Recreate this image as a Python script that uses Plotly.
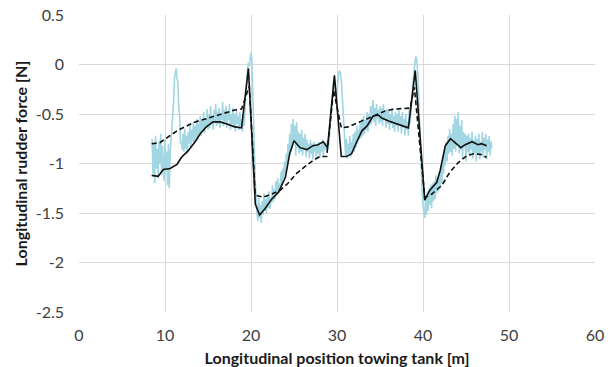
import numpy as np
import plotly.graph_objects as go

# Measured longitudinal rudder force, sampled every 0.1 m from 8.5 m
meas_x0 = 8.5
meas_dx = 0.1
meas_y = [
    # 8.5 - 10.7
    -0.75, -1.10, -0.80, -1.20, -0.72, -1.05, -0.85, -1.15, -0.78, -1.00,
    -0.70, -1.12, -0.82, -0.95, -1.18, -0.76, -1.05, -0.88, -1.22, -0.80,
    -1.25, -0.90, -0.78,
    # 10.8 - 12.0
    -0.72, -0.50, -0.38, -0.14, -0.10, -0.04, -0.14, -0.18, -0.44, -0.52,
    -0.80, -0.78, -0.86,
    # 12.1 - 19.0
    -0.70, -0.88, -0.65, -0.85, -0.72, -0.90, -0.68, -0.80, -0.62, -0.84,
    -0.66, -0.78, -0.58, -0.80, -0.62, -0.74, -0.55, -0.76, -0.60, -0.70,
    -0.52, -0.72, -0.56, -0.66, -0.48, -0.70, -0.54, -0.62, -0.45, -0.66,
    -0.50, -0.64, -0.42, -0.60, -0.52, -0.66, -0.46, -0.58, -0.40, -0.62,
    -0.48, -0.60, -0.44, -0.64, -0.50, -0.56, -0.38, -0.62, -0.46, -0.58,
    -0.42, -0.64, -0.48, -0.56, -0.40, -0.66, -0.50, -0.60, -0.44, -0.62,
    -0.50, -0.68, -0.46, -0.60, -0.52, -0.66, -0.48, -0.62, -0.55, -0.68,
    # 19.1 - 19.3
    -0.50, -0.62, -0.40,
    # 19.4 - 20.7
    -0.25, -0.15, -0.05, 0.02, -0.02, 0.08, 0.12, 0.05, -0.20, -0.55,
    -0.90, -1.20, -1.40, -1.50,
    # 20.8 - 28.7
    -1.58, -1.35, -1.55, -1.42, -1.60, -1.38, -1.52, -1.30, -1.48, -1.36,
    -1.50, -1.32, -1.45, -1.28, -1.46, -1.34, -1.40, -1.22, -1.38, -1.26,
    -1.36, -1.18, -1.32, -1.15, -1.30, -1.20, -1.25, -1.08, -1.22, -1.05,
    -1.15, -0.98, -1.10, -0.90, -1.02, -0.80, -0.95, -0.70, -0.88, -0.60,
    -0.85, -0.55, -0.78, -0.62, -0.92, -0.58, -0.84, -0.68, -0.90, -0.70,
    -0.88, -0.66, -0.92, -0.74, -0.86, -0.70, -0.94, -0.76, -0.88, -0.80,
    -0.95, -0.76, -0.90, -0.80, -0.96, -0.78, -0.88, -0.82, -0.94, -0.80,
    -0.90, -0.78, -0.95, -0.82, -0.88, -0.76, -0.92, -0.80, -0.86, -0.78,
    # 28.8 - 30.9
    -0.88, -0.80, -0.85, -0.72, -0.60, -0.48, -0.38, -0.28, -0.18, -0.14,
    -0.24, -0.34, -0.28, -0.16, -0.09, -0.06, -0.09, -0.15, -0.32, -0.55,
    -0.72, -0.82,
    # 31.0 - 37.9
    -0.92, -0.75, -0.95, -0.80, -0.90, -0.72, -0.94, -0.78, -0.86, -0.70,
    -0.88, -0.68, -0.84, -0.62, -0.80, -0.66, -0.76, -0.58, -0.74, -0.55,
    -0.72, -0.52, -0.70, -0.56, -0.66, -0.48, -0.68, -0.50, -0.62, -0.42,
    -0.60, -0.45, -0.36, -0.58, -0.44, -0.62, -0.40, -0.55, -0.46, -0.60,
    -0.42, -0.58, -0.44, -0.62, -0.40, -0.56, -0.48, -0.64, -0.45, -0.60,
    -0.46, -0.66, -0.50, -0.60, -0.44, -0.64, -0.52, -0.68, -0.48, -0.62,
    -0.50, -0.68, -0.46, -0.62, -0.52, -0.70, -0.48, -0.64, -0.55, -0.72,
    # 38.0 - 38.6
    -0.50, -0.66, -0.58, -0.72, -0.45, -0.60, -0.50,
    # 38.7 - 40.2
    -0.35, -0.20, -0.10, 0.00, 0.05, 0.08, 0.02, -0.10, -0.35, -0.65,
    -0.90, -1.15, -1.30, -1.42, -1.50, -1.55,
    # 40.3 - 47.2
    -1.35, -1.52, -1.28, -1.48, -1.25, -1.42, -1.22, -1.45, -1.20, -1.38,
    -1.18, -1.36, -1.12, -1.30, -1.15, -1.28, -1.08, -1.25, -1.02, -1.20,
    -0.92, -1.10, -0.85, -1.02, -0.78, -0.98, -0.72, -0.90, -0.65, -0.88,
    -0.70, -0.92, -0.60, -0.85, -0.52, -0.88, -0.55, -0.80, -0.48, -0.90,
    -0.62, -0.86, -0.56, -0.95, -0.68, -0.84, -0.70, -0.98, -0.72, -0.88,
    -0.70, -0.92, -0.74, -0.86, -0.68, -0.95, -0.76, -0.90, -0.72, -0.98,
    -0.75, -0.90, -0.70, -0.96, -0.78, -0.88, -0.68, -0.94, -0.74, -0.86,
    # 47.3 - 48.0
    -0.70, -0.96, -0.76, -0.88, -0.72, -0.92, -0.78, -0.85,
]
meas_x = np.round(meas_x0 + meas_dx * np.arange(len(meas_y)), 2)

# Filtered force (solid black)
filt_x = [8.45, 9.2, 9.8, 10.6, 11.4, 11.9, 12.7, 13.5, 14.1, 14.8, 15.6, 16.4,
          17.2, 18.1, 18.9, 19.7, 20.5, 21.0, 21.6, 22.4, 23.2, 24.0, 24.5,
          25.0, 25.7, 26.5, 27.2, 27.8, 28.4, 28.9, 29.7, 30.5, 31.1, 31.7,
          32.3, 32.9, 33.5, 34.2, 34.8, 35.2, 36.0, 36.7, 37.5, 38.3, 39.1,
          40.2, 40.8, 41.6, 42.0, 42.6, 43.2, 43.8, 44.4, 44.9, 45.7, 46.4,
          46.8, 47.4]
filt_y = [-1.12, -1.13, -1.06, -1.05, -1.01, -0.94, -0.87, -0.78, -0.70, -0.63,
          -0.58, -0.58, -0.60, -0.63, -0.64, -0.04, -1.41, -1.52, -1.46, -1.36,
          -1.29, -1.14, -0.90, -0.77, -0.84, -0.86, -0.82, -0.81, -0.78, -0.84,
          -0.11, -0.93, -0.93, -0.90, -0.78, -0.67, -0.62, -0.52, -0.51, -0.54,
          -0.57, -0.59, -0.61, -0.64, -0.06, -1.37, -1.27, -1.19, -1.07, -0.82,
          -0.75, -0.80, -0.84, -0.81, -0.78, -0.81, -0.80, -0.82]

# Computed force (dashed black)
calc_x = [8.45, 9.4, 10.4, 11.4, 12.3, 13.5, 14.7, 15.8, 17.0, 18.1, 18.9,
          19.8, 20.5, 21.4, 22.4, 23.4, 24.3, 25.3, 26.3, 27.2, 28.0, 28.8,
          29.6, 30.5, 31.3, 32.1, 33.3, 34.4, 35.6, 36.7, 37.9, 38.5, 39.0,
          40.2, 41.0, 42.2, 43.1, 44.1, 45.1, 46.0, 46.8, 47.4]
calc_y = [-0.80, -0.79, -0.73, -0.67, -0.63, -0.58, -0.55, -0.52, -0.49, -0.46,
          -0.45, -0.22, -1.32, -1.34, -1.31, -1.27, -1.20, -1.10, -1.03, -0.97,
          -0.93, -0.93, -0.26, -0.64, -0.63, -0.60, -0.56, -0.52, -0.47, -0.45,
          -0.44, -0.44, -0.23, -1.34, -1.31, -1.22, -1.09, -0.99, -0.92, -0.90,
          -0.91, -0.94]

x_ticks = [0, 10, 20, 30, 40, 50, 60]
y_ticks = [0.5, 0, -0.5, -1, -1.5, -2, -2.5]
y_tick_text = ["0.5", "0", "-0.5", "-1", "-1.5", "-2", "-2.5"]

fig = go.Figure()
fig.add_trace(go.Scatter(x=meas_x, y=meas_y, mode="lines",
                         line=dict(color="#A3D6E3", width=1.6),
                         showlegend=False))
fig.add_trace(go.Scatter(x=filt_x, y=filt_y, mode="lines",
                         line=dict(color="#111111", width=1.6),
                         showlegend=False))
fig.add_trace(go.Scatter(x=calc_x, y=calc_y, mode="lines",
                         line=dict(color="#111111", width=1.6, dash="5px,3px"),
                         showlegend=False))

font_family = "Lato, 'Open Sans', sans-serif"
fig.update_layout(
    width=614, height=367,
    margin=dict(l=79, r=19, t=15, b=55),
    paper_bgcolor="white", plot_bgcolor="white",
    font=dict(family=font_family, size=16, color="#404040"),
    xaxis=dict(
        range=[0, 60], tickvals=x_ticks,
        showgrid=True, gridcolor="#D9D9D9", gridwidth=1,
        zeroline=False, showline=False, ticks="",
        ticklabelstandoff=12, automargin=False,
        tickfont=dict(size=16, color="#404040"),
        title=dict(text="<b>Longitudinal position towing tank [m]</b>",
                   font=dict(size=16, color="#1a1a1a"), standoff=9),
    ),
    yaxis=dict(
        range=[-2.5, 0.5], tickvals=y_ticks, ticktext=y_tick_text,
        showgrid=True, gridcolor="#D9D9D9", gridwidth=1,
        zeroline=False, showline=False, ticks="",
        ticklabelstandoff=14, automargin=False,
        tickfont=dict(size=16, color="#404040"),
        title=dict(text="<b>Longitudinal rudder force [N]</b>",
                   font=dict(size=16, color="#1a1a1a"), standoff=4),
    ),
)

fig.write_html("out.html")
